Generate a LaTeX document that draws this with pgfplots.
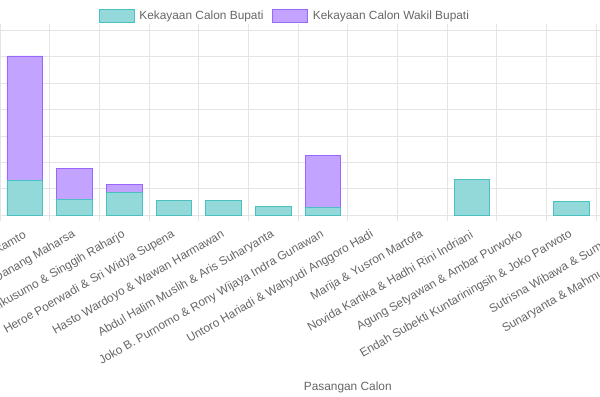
\documentclass[border=0pt]{standalone}
\usepackage{pgfplots}
\pgfplotsset{compat=1.18}
\usepackage{pgfplotstable}
\usepackage{fontspec}
\setmainfont{Liberation Sans}
\definecolor{tealfill}{HTML}{93D9D9}
\definecolor{tealline}{HTML}{4BC0C0}
\definecolor{purfill}{HTML}{C2A3FF}
\definecolor{purline}{HTML}{9966FF}
\definecolor{gridc}{HTML}{E4E4E4}
\definecolor{txt}{HTML}{666666}
\newcommand{\cf}{\fontsize{12}{14}\selectfont}

% values in billion rupiah (estimated)
\pgfplotstableread{
idx bupati wakil
0 6.5 23.65
1 3.05 5.8
2 4.25 1.6
3 2.8 0
4 2.8 0
5 1.6 0
6 1.45 9.8
7 0 0
8 0 0
9 6.7 0
10 0 0
11 2.6 0
12 0 0
13 0 0
}\datatable

\begin{document}
\begin{tikzpicture}
\begin{axis}[
  name=ax,
  scale only axis, width=702.5pt, height=186.7pt,
  xmin=-0.5, xmax=13.5, ymin=0, ymax=35,
  xtick={0,...,13},
  xticklabels={
    Kustini Sri Purnomo \& Sukamto,
    Harda Kiswaya \& Danang Maharsa,
    Afnan Hadikusumo \& Singgih Raharjo,
    Heroe Poerwadi \& Sri Widya Supena,
    Hasto Wardoyo \& Wawan Harmawan,
    Abdul Halim Muslih \& Aris Suharyanta,
    Joko B. Purnomo \& Rony Wijaya Indra Gunawan,
    Untoro Hariadi \& Wahyudi Anggoro Hadi,
    Marija \& Yusron Martofa,
    Novida Kartika \& Hadhi Rini Indriani,
    Agung Setyawan \& Ambar Purwoko,
    Endah Subekti Kuntariningsih \& Joko Parwoto,
    Sutrisna Wibawa \& Sumanto,
    Sunaryanta \& Mahmud Ardi Widanto},
  minor xtick={-0.5,0.5,...,13.5},
  xminorgrids, ymajorgrids,
  ytick={0,5,...,35}, yticklabels={},
  major tick length=0pt, minor tick length=6pt, tick align=outside,
  minor x tick style={draw=gridc, line width=0.8pt},
  major grid style={draw=gridc, line width=0.8pt},
  minor grid style={draw=gridc, line width=0.8pt},
  axis line style={draw=gridc, line width=0.8pt},
  xticklabel style={yshift=-18.7pt, rotate=30, anchor=east, inner sep=0pt, font=\cf, text=txt},
  xlabel={Pasangan Calon},
  xlabel style={at={(axis description cs:0.5,0)}, anchor=center, yshift=-173.7pt, font=\cf, text=txt},
  legend columns=2,
  legend cell align=left,
  legend image code/.code={\draw[#1] (0pt,-6.5pt) rectangle (35pt,6.5pt);},
  legend style={at={(axis description cs:0.1423,1.0793)}, anchor=west,
    draw=none, fill=none, inner sep=0pt, outer sep=0pt,
    font=\cf, text=txt, nodes={inner sep=0pt},
    /tikz/every odd column/.append style={column sep=5pt},
    /tikz/every even column/.append style={column sep=9pt}},
]
\addlegendimage{fill=tealfill, draw=tealline, line width=0.8pt}
\addlegendentry{Kekayaan Calon Bupati}
\addlegendimage{fill=purfill, draw=purline, line width=0.8pt}
\addlegendentry{Kekayaan Calon Wakil Bupati}
% wakil bupati, stacked on top of bupati
\addplot[forget plot, ybar, bar width=36.1pt, bar shift=0pt, fill=purfill, draw=purline, line width=0.8pt,
  restrict expr to domain={\thisrow{wakil}}{0.001:1000}]
  table[x=idx, y expr=\thisrow{bupati}+\thisrow{wakil}] {\datatable};
% bupati
\addplot[forget plot, ybar, bar width=36.1pt, bar shift=0pt, fill=tealfill, draw=tealline, line width=0.8pt,
  restrict expr to domain={\thisrow{bupati}}{0.001:1000}]
  table[x=idx, y=bupati] {\datatable};
\end{axis}
\pgfresetboundingbox
\path[use as bounding box] (ax.south west) ++(6pt,-182.7pt) rectangle ++(600pt,400pt);
\end{tikzpicture}
\end{document}
